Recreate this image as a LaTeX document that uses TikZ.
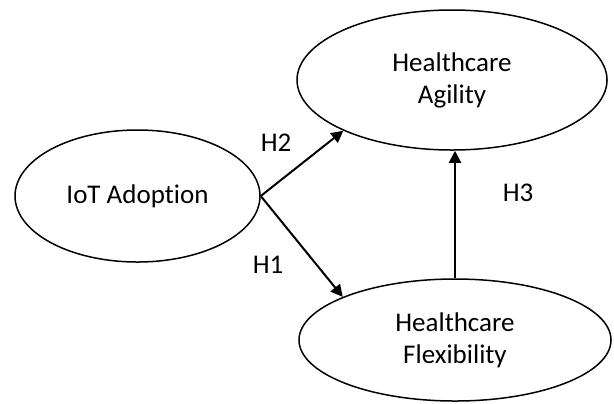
\documentclass[tikz,border=0pt]{standalone}
\usepackage{fontspec}
\setmainfont{Carlito}[Ligatures={NoCommon}]
\usetikzlibrary{positioning, arrows.meta, shapes.geometric}

\begin{document}
\begin{tikzpicture}[x=0.5pt, y=-0.5pt,
    font=\fontsize{13.5}{16}\selectfont,
    construct/.style={draw, ellipse, line width=0.75pt, align=center, inner sep=0pt},
    hyp/.style={-{Triangle[length=6pt, width=6pt]}, line width=1pt}]
    \useasboundingbox (0,0) rectangle (614,403);
    \node[construct, minimum width=122.5pt, minimum height=66pt] (iot) at (137.5,196) {IoT Adoption};
    \node[construct, minimum width=155pt, minimum height=70pt] (agi) at (452,80) {Healthcare\\Agility};
    \node[construct, minimum width=156pt, minimum height=61pt] (flex) at (455,340) {Healthcare\\Flexibility};
    \draw[hyp] (iot.east) -- (agi.205);
    \draw[hyp] (iot.east) -- (flex.159);
    \draw[hyp] (flex.north) -- (flex.north |- agi.south);
    \node at (276,143) {H2};
    \node at (268,265) {H1};
    \node at (518,193) {H3};
\end{tikzpicture}
\end{document}
